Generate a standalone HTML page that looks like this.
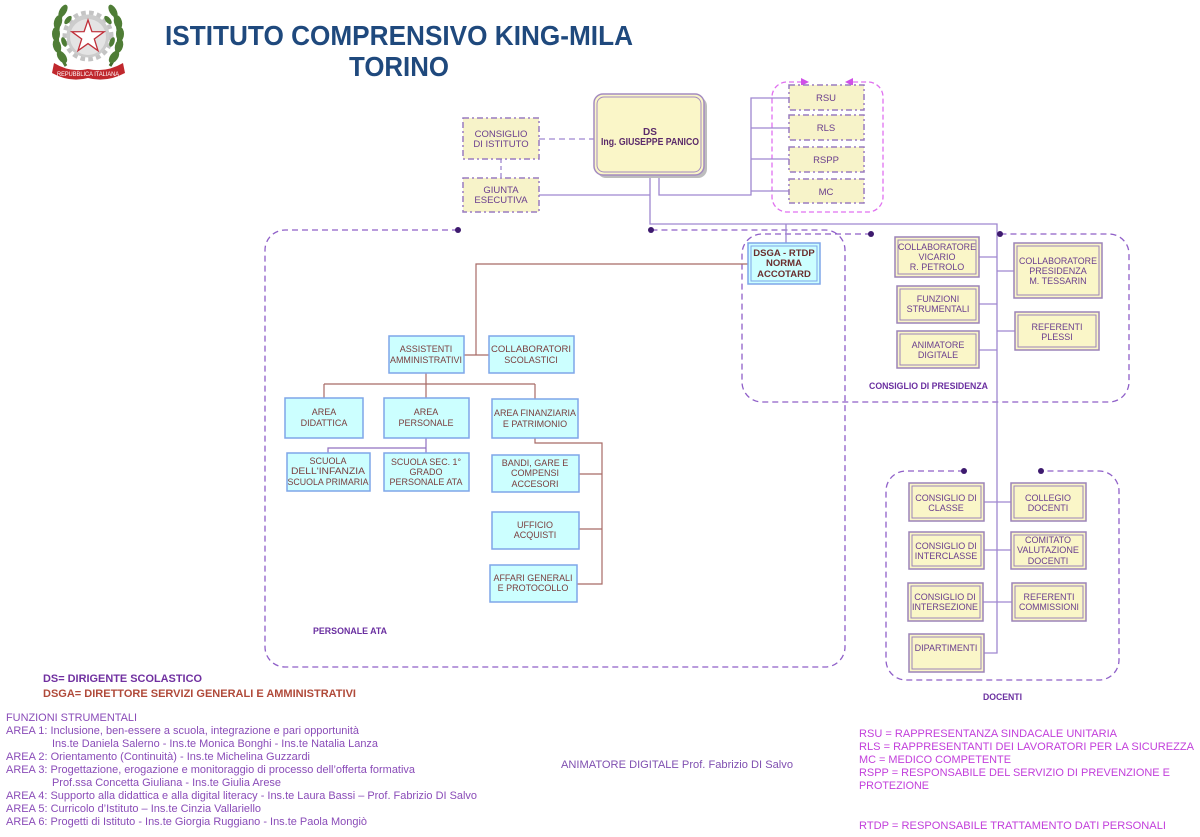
<!DOCTYPE html>
<html><head><meta charset="utf-8"><style>
html,body{margin:0;padding:0;background:#fff;}
svg{display:block;}
text{font-family:"Liberation Sans",Arial,sans-serif;}
</style></head><body>
<svg width="1200" height="837" viewBox="0 0 1200 837" xmlns="http://www.w3.org/2000/svg">
<rect width="1200" height="837" fill="#fff"/>

<!-- LOGO -->
<g>
 <circle cx="88" cy="36" r="23" fill="none" stroke="#C4C4C4" stroke-width="5" stroke-dasharray="4.6 3.2"/>
 <circle cx="88" cy="36" r="21.5" fill="#CCCCCC"/>
 <circle cx="88" cy="37" r="18" fill="#E4E4E4"/>
 <polygon points="88,20 91.9,31.6 104.2,31.7 94.3,39 98,50.7 88,43.6 78,50.7 81.7,39 71.8,31.7 84.1,31.6" fill="#fff" stroke="#C0303A" stroke-width="1.3"/>
 <path d="M66 66 Q50 42 64 8" fill="none" stroke="#4E7A34" stroke-width="3"/>
 <path d="M110 66 Q126 42 112 8" fill="none" stroke="#3F6B2A" stroke-width="3"/>
 <g fill="#4F7D36">
  <ellipse cx="63" cy="11" rx="3.5" ry="7" transform="rotate(30 63 11)"/>
  <ellipse cx="58" cy="22" rx="4" ry="7" transform="rotate(15 58 22)"/>
  <ellipse cx="56" cy="34" rx="4" ry="7"/>
  <ellipse cx="57" cy="46" rx="4" ry="7" transform="rotate(-15 57 46)"/>
  <ellipse cx="62" cy="57" rx="4" ry="7" transform="rotate(-35 62 57)"/>
  <ellipse cx="68" cy="20" rx="2.5" ry="5" transform="rotate(40 68 20)"/>
  <ellipse cx="64" cy="42" rx="2.5" ry="5" transform="rotate(-20 64 42)"/>
  <ellipse cx="113" cy="11" rx="3.5" ry="7" transform="rotate(-30 113 11)"/>
  <ellipse cx="118" cy="22" rx="4" ry="7" transform="rotate(-15 118 22)"/>
  <ellipse cx="120" cy="34" rx="4" ry="7"/>
  <ellipse cx="119" cy="46" rx="4" ry="7" transform="rotate(15 119 46)"/>
  <ellipse cx="114" cy="57" rx="4" ry="7" transform="rotate(35 114 57)"/>
  <ellipse cx="108" cy="20" rx="2.5" ry="5" transform="rotate(-40 108 20)"/>
  <ellipse cx="112" cy="42" rx="2.5" ry="5" transform="rotate(20 112 42)"/>
 </g>
 <path d="M54 63 Q70 73 88 69 Q106 73 123 63 L125 73 Q106 83 88 78 Q70 83 52 73 Z" fill="#C0282D"/>
 <text x="88" y="76" font-size="6" fill="#fff" text-anchor="middle" textLength="62" lengthAdjust="spacingAndGlyphs">REPUBBLICA ITALIANA</text>
</g>

<!-- TITLE -->
<text x="165" y="45" font-size="28" font-weight="bold" fill="#1F497D" textLength="468" lengthAdjust="spacingAndGlyphs">ISTITUTO COMPRENSIVO KING-MILA</text>
<text x="349" y="76" font-size="28" font-weight="bold" fill="#1F497D" textLength="100" lengthAdjust="spacingAndGlyphs">TORINO</text>

<!-- DASHED GROUP BOXES -->
<g fill="none" stroke="#8F5FC8" stroke-width="1.3" stroke-dasharray="6 4">
 <path d="M458 230 H285 A20 20 0 0 0 265 250 V647 A20 20 0 0 0 285 667 H825 A20 20 0 0 0 845 647 V250 A20 20 0 0 0 825 230 H651"/>
 <path d="M871 234 H762 A20 20 0 0 0 742 254 V382 A20 20 0 0 0 762 402 H1109 A20 20 0 0 0 1129 382 V254 A20 20 0 0 0 1109 234 H1000"/>
 <path d="M964 471 H906 A20 20 0 0 0 886 491 V660 A20 20 0 0 0 906 680 H1099 A20 20 0 0 0 1119 660 V491 A20 20 0 0 0 1099 471 H1041"/>
</g>
<!-- magenta box -->
<path d="M802 82 H787 A15 15 0 0 0 772 97 V197 A15 15 0 0 0 787 212 H868 A15 15 0 0 0 883 197 V97 A15 15 0 0 0 868 82 H853" fill="none" stroke="#E070F0" stroke-width="1.3" stroke-dasharray="5 3"/>
<polygon points="801,78 809,82 801,86" fill="#D050E8"/>
<polygon points="853,78 845,82 853,86" fill="#D050E8"/>

<!-- DS TREE LINES -->
<g fill="none" stroke="#9F87D0" stroke-width="1.3">
 <path d="M539 195 H650"/>
 <path d="M650 175 V224 H997 V653 H984"/>
 <path d="M659 175 V195 H751 V98 H789 M751 128 H789 M751 159 H789 M751 191 H789"/>
 <path d="M786 224 V243"/>
 <path d="M979 257 H997 M979 304 H997 M979 350 H997 M997 271 H1014 M997 331 H1015"/>
 <path d="M984 502 H1011 M984 550 H1011 M983 602 H1012"/>
</g>
<path d="M539 139 H594" stroke="#9F87D0" stroke-width="1.3" stroke-dasharray="6 4" fill="none"/>
<path d="M501 159 V178" stroke="#9F87D0" stroke-width="1.3" stroke-dasharray="4 3" fill="none"/>

<!-- ATA LINES -->
<g fill="none" stroke="#A86A66" stroke-width="1.2">
 <path d="M748 264 H476 V355 M464 355 H489"/>
 <path d="M426 373 V384 M324 384 H535 M324 384 V398 M426 384 V398 M535 384 V399"/>
 <path d="M535 438 V443 H602 V584 H577 M579 474 H602 M579 529 H602"/>
</g>
<path d="M426 438 V448 H328 V453 M426 448 V453" fill="none" stroke="#9070C0" stroke-width="1.2"/>

<!-- DOTS -->
<g fill="#3D1A6E">
 <circle cx="458" cy="230" r="3"/><circle cx="651" cy="230" r="3"/>
 <circle cx="871" cy="234" r="3"/><circle cx="1000" cy="234" r="3"/>
 <circle cx="964" cy="471" r="3"/><circle cx="1041" cy="471" r="3"/>
</g>

<!-- DS BOX -->
<rect x="597" y="97" width="110" height="81" rx="9" fill="#BDBDBD"/>
<rect x="594" y="94" width="110" height="81" rx="9" fill="#FAF6C8" stroke="#A48BC0" stroke-width="1.5"/>
<rect x="597" y="97" width="104" height="75" rx="7" fill="none" stroke="#A48BC0" stroke-width="1"/>
<text x="650" y="135" font-size="10" font-weight="bold" fill="#5A2A6A" text-anchor="middle">DS</text>
<text x="650" y="145" font-size="10" font-weight="bold" fill="#5A2A6A" text-anchor="middle" textLength="98" lengthAdjust="spacingAndGlyphs">Ing. GIUSEPPE PANICO</text>

<!-- DASH-DOT BOXES -->
<g fill="#F7F3C9" stroke="#9A7CC0" stroke-width="1.5" stroke-dasharray="6 3 2 3">
 <rect x="463" y="118" width="76" height="41"/>
 <rect x="463" y="178" width="76" height="34"/>
 <rect x="789" y="85" width="75" height="25"/>
 <rect x="789" y="115" width="75" height="25"/>
 <rect x="789" y="147" width="75" height="25"/>
 <rect x="789" y="179" width="75" height="24"/>
</g>
<g font-size="9.5" fill="#6A3E8E" text-anchor="middle">
 <text x="501" y="137">CONSIGLIO</text>
 <text x="501" y="147">DI ISTITUTO</text>
 <text x="501" y="193">GIUNTA</text>
 <text x="501" y="203">ESECUTIVA</text>
 <text x="826" y="101">RSU</text>
 <text x="826" y="131">RLS</text>
 <text x="826" y="163">RSPP</text>
 <text x="826" y="195">MC</text>
</g>

<!-- YELLOW DOUBLE BOXES -->
<g fill="#FAF6C8" stroke="#9C84B8" stroke-width="1.5">
 <rect x="895" y="237" width="84" height="40"/>
 <rect x="897" y="286" width="82" height="37"/>
 <rect x="897" y="331" width="82" height="37"/>
 <rect x="1014" y="243" width="88" height="55"/>
 <rect x="1015" y="312" width="84" height="38"/>
 <rect x="909" y="483" width="75" height="38"/>
 <rect x="909" y="532" width="75" height="37"/>
 <rect x="908" y="583" width="75" height="38"/>
 <rect x="909" y="634" width="75" height="38"/>
 <rect x="1011" y="483" width="75" height="38"/>
 <rect x="1011" y="532" width="75" height="37"/>
 <rect x="1012" y="583" width="74" height="38"/>
</g>
<g fill="none" stroke="#9C84B8" stroke-width="1">
 <rect x="898" y="240" width="78" height="34"/>
 <rect x="900" y="289" width="76" height="31"/>
 <rect x="900" y="334" width="76" height="31"/>
 <rect x="1017" y="246" width="82" height="49"/>
 <rect x="1018" y="315" width="78" height="32"/>
 <rect x="912" y="486" width="69" height="32"/>
 <rect x="912" y="535" width="69" height="31"/>
 <rect x="911" y="586" width="69" height="32"/>
 <rect x="912" y="637" width="69" height="32"/>
 <rect x="1014" y="486" width="69" height="32"/>
 <rect x="1014" y="535" width="69" height="31"/>
 <rect x="1015" y="586" width="68" height="32"/>
</g>
<g font-size="9" fill="#6A3E8E" text-anchor="middle">
 <text x="937" y="250" textLength="78" lengthAdjust="spacingAndGlyphs">COLLABORATORE</text>
 <text x="937" y="260">VICARIO</text>
 <text x="937" y="270">R. PETROLO</text>
 <text x="938" y="302">FUNZIONI</text>
 <text x="938" y="312">STRUMENTALI</text>
 <text x="938" y="348">ANIMATORE</text>
 <text x="938" y="358">DIGITALE</text>
 <text x="1058" y="264" textLength="78" lengthAdjust="spacingAndGlyphs">COLLABORATORE</text>
 <text x="1058" y="274">PRESIDENZA</text>
 <text x="1058" y="284">M. TESSARIN</text>
 <text x="1057" y="330">REFERENTI</text>
 <text x="1057" y="340">PLESSI</text>
 <text x="946" y="501">CONSIGLIO DI</text>
 <text x="946" y="511">CLASSE</text>
 <text x="946" y="549">CONSIGLIO DI</text>
 <text x="946" y="559">INTERCLASSE</text>
 <text x="945" y="600">CONSIGLIO DI</text>
 <text x="945" y="610" textLength="66" lengthAdjust="spacingAndGlyphs">INTERSEZIONE</text>
 <text x="946" y="651">DIPARTIMENTI</text>
 <text x="1048" y="501">COLLEGIO</text>
 <text x="1048" y="511">DOCENTI</text>
 <text x="1048" y="543">COMITATO</text>
 <text x="1048" y="553" textLength="62" lengthAdjust="spacingAndGlyphs">VALUTAZIONE</text>
 <text x="1048" y="564">DOCENTI</text>
 <text x="1049" y="600">REFERENTI</text>
 <text x="1049" y="610" textLength="60" lengthAdjust="spacingAndGlyphs">COMMISSIONI</text>
</g>
<g font-size="9" font-weight="bold" fill="#6A2FA0">
 <text x="869" y="389" textLength="119" lengthAdjust="spacingAndGlyphs">CONSIGLIO DI PRESIDENZA</text>
 <text x="983" y="700" textLength="39" lengthAdjust="spacingAndGlyphs">DOCENTI</text>
 <text x="313" y="634" textLength="74" lengthAdjust="spacingAndGlyphs">PERSONALE ATA</text>
</g>

<!-- DSGA BOX -->
<rect x="748" y="243" width="72" height="41" fill="#CCFFFF" stroke="#7EA6E8" stroke-width="1.5"/>
<rect x="751" y="246" width="66" height="35" fill="none" stroke="#7EA6E8" stroke-width="1"/>
<g font-size="9.5" font-weight="bold" fill="#6B2E2E" text-anchor="middle">
 <text x="784" y="256">DSGA - RTDP</text>
 <text x="784" y="266">NORMA</text>
 <text x="784" y="277">ACCOTARD</text>
</g>

<!-- CYAN BOXES -->
<g fill="#CCFFFF" stroke="#7EA6E8" stroke-width="1.5">
 <rect x="389" y="336" width="75" height="37"/>
 <rect x="489" y="336" width="85" height="37"/>
 <rect x="285" y="398" width="78" height="40"/>
 <rect x="384" y="398" width="85" height="40"/>
 <rect x="492" y="399" width="86" height="39"/>
 <rect x="287" y="453" width="83" height="38"/>
 <rect x="384" y="453" width="85" height="38"/>
 <rect x="492" y="455" width="87" height="37"/>
 <rect x="492" y="512" width="87" height="37"/>
 <rect x="490" y="565" width="87" height="37"/>
</g>
<g font-size="9" fill="#7A3E3E" text-anchor="middle">
 <text x="426" y="352">ASSISTENTI</text>
 <text x="426" y="363" textLength="72" lengthAdjust="spacingAndGlyphs">AMMINISTRATIVI</text>
 <text x="531" y="352" textLength="80" lengthAdjust="spacingAndGlyphs">COLLABORATORI</text>
 <text x="531" y="363">SCOLASTICI</text>
 <text x="324" y="415">AREA</text>
 <text x="324" y="426">DIDATTICA</text>
 <text x="426" y="415">AREA</text>
 <text x="426" y="426">PERSONALE</text>
 <text x="535" y="416" textLength="82" lengthAdjust="spacingAndGlyphs">AREA FINANZIARIA</text>
 <text x="535" y="427">E PATRIMONIO</text>
 <text x="328" y="464">SCUOLA</text>
 <text x="328" y="474" textLength="74" lengthAdjust="spacingAndGlyphs">DELL'INFANZIA</text>
 <text x="328" y="485" textLength="81" lengthAdjust="spacingAndGlyphs">SCUOLA PRIMARIA</text>
 <text x="426" y="465" textLength="70" lengthAdjust="spacingAndGlyphs">SCUOLA SEC. 1°</text>
 <text x="426" y="475">GRADO</text>
 <text x="426" y="485" textLength="73" lengthAdjust="spacingAndGlyphs">PERSONALE ATA</text>
 <text x="535" y="466">BANDI, GARE E</text>
 <text x="535" y="476">COMPENSI</text>
 <text x="535" y="487">ACCESORI</text>
 <text x="535" y="528">UFFICIO</text>
 <text x="535" y="538">ACQUISTI</text>
 <text x="533" y="581" textLength="79" lengthAdjust="spacingAndGlyphs">AFFARI GENERALI</text>
 <text x="533" y="591">E PROTOCOLLO</text>
</g>

<!-- LEGEND LEFT -->
<text x="43" y="682" font-size="11" font-weight="bold" fill="#7030A0" textLength="159" lengthAdjust="spacingAndGlyphs">DS= DIRIGENTE SCOLASTICO</text>
<text x="43" y="697" font-size="11" font-weight="bold" fill="#B04A3A" textLength="313" lengthAdjust="spacingAndGlyphs">DSGA= DIRETTORE SERVIZI GENERALI E AMMINISTRATIVI</text>
<g font-size="11" fill="#8A4CB8">
 <text x="6" y="721" textLength="131" lengthAdjust="spacingAndGlyphs">FUNZIONI STRUMENTALI</text>
 <text x="6" y="734" textLength="353" lengthAdjust="spacingAndGlyphs">AREA 1: Inclusione, ben-essere a scuola, integrazione e pari opportunità</text>
 <text x="52" y="747" textLength="326" lengthAdjust="spacingAndGlyphs">Ins.te Daniela Salerno - Ins.te Monica Bonghi - Ins.te Natalia Lanza</text>
 <text x="6" y="760" textLength="304" lengthAdjust="spacingAndGlyphs">AREA 2: Orientamento (Continuità) - Ins.te Michelina Guzzardi</text>
 <text x="6" y="773" textLength="409" lengthAdjust="spacingAndGlyphs">AREA 3: Progettazione, erogazione e monitoraggio di processo dell’offerta formativa</text>
 <text x="52" y="786" textLength="229" lengthAdjust="spacingAndGlyphs">Prof.ssa Concetta Giuliana - Ins.te Giulia Arese</text>
 <text x="6" y="799" textLength="471" lengthAdjust="spacingAndGlyphs">AREA 4: Supporto alla didattica e alla digital literacy - Ins.te Laura Bassi – Prof. Fabrizio DI Salvo</text>
 <text x="6" y="812" textLength="255" lengthAdjust="spacingAndGlyphs">AREA 5: Curricolo d’Istituto – Ins.te Cinzia Vallariello</text>
 <text x="6" y="825" textLength="361" lengthAdjust="spacingAndGlyphs">AREA 6: Progetti di Istituto - Ins.te Giorgia Ruggiano - Ins.te Paola Mongiò</text>
</g>

<!-- LEGEND RIGHT -->
<text x="561" y="768" font-size="11" fill="#7F4FB0" textLength="232" lengthAdjust="spacingAndGlyphs">ANIMATORE DIGITALE Prof. Fabrizio DI Salvo</text>
<g font-size="11" fill="#C23EDB">
 <text x="859" y="737" textLength="258" lengthAdjust="spacingAndGlyphs">RSU = RAPPRESENTANZA SINDACALE UNITARIA</text>
 <text x="859" y="750" textLength="335" lengthAdjust="spacingAndGlyphs">RLS = RAPPRESENTANTI DEI LAVORATORI PER LA SICUREZZA</text>
 <text x="859" y="763" textLength="152" lengthAdjust="spacingAndGlyphs">MC = MEDICO COMPETENTE</text>
 <text x="859" y="776" textLength="311" lengthAdjust="spacingAndGlyphs">RSPP = RESPONSABILE DEL SERVIZIO DI PREVENZIONE E</text>
 <text x="859" y="789" textLength="70" lengthAdjust="spacingAndGlyphs">PROTEZIONE</text>
 <text x="859" y="829" textLength="307" lengthAdjust="spacingAndGlyphs">RTDP = RESPONSABILE TRATTAMENTO DATI PERSONALI</text>
</g>
</svg>
</body></html>
